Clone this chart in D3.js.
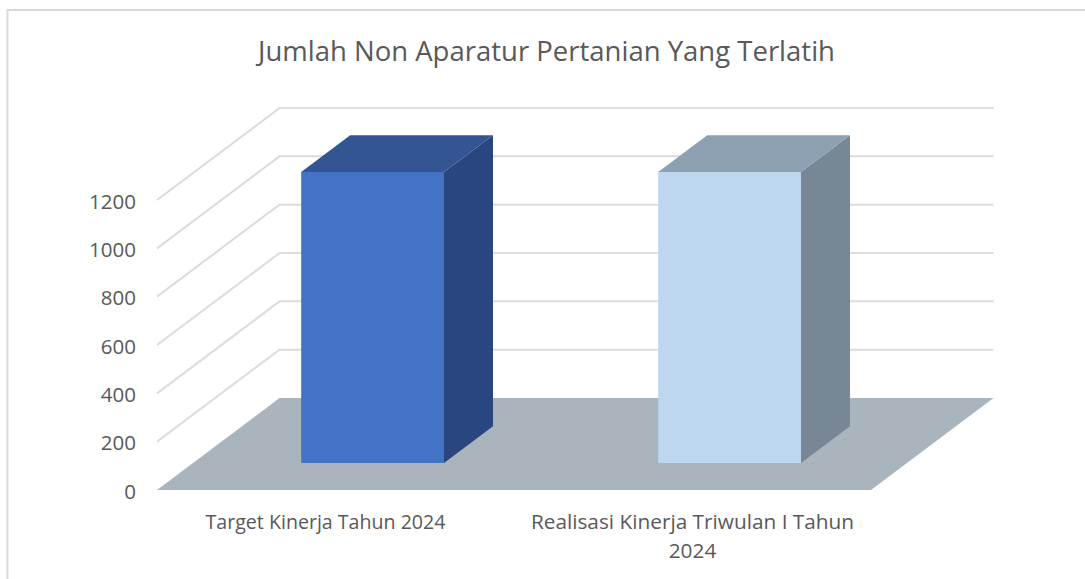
<!DOCTYPE html>
<html>
<head>
<meta charset="utf-8">
<style>
html, body { margin: 0; padding: 0; background: #fff; overflow: hidden; }
text { font-family: "Open Sans", sans-serif; fill: #595959; font-variant-ligatures: none; }
</style>
<script src="https://cdn.jsdelivr.net/npm/d3@7"></script>
</head>
<body>
<script>
//chart data
var chartTitle = "Jumlah Non Aparatur Pertanian Yang Terlatih";
var categories = ["Target Kinerja Tahun 2024", "Realisasi Kinerja Triwulan I Tahun 2024"];
var categoryLines = [["Target Kinerja Tahun 2024"], ["Realisasi Kinerja Triwulan I Tahun", "2024"]];
var values = [1204, 1204];
var tickValues = [0, 200, 400, 600, 800, 1000, 1200];

//face colors of each bar
var frontColors = ["#4472C4", "#BDD7EE"];
var topColors = ["#335593", "#8EA1B3"];
var sideColors = ["#2A4680", "#778796"];

var width = 1085,
    height = 579;

var svg = d3.select("body")
    .append("svg")
    .attr("width", width)
    .attr("height", height)
    .style("display", "block");

//outer chart border, only top and left are in the picture
svg.append("path")
    .attr("d", "M7.5,579V10H1085")
    .attr("fill", "none")
    .attr("stroke", "#d9d9d9")
    .attr("stroke-width", 2);

svg.append("text")
    .attr("x", 546.5)
    .attr("y", 61)
    .attr("text-anchor", "middle")
    .style("font-size", "27.5px")
    .text(chartTitle);

//front plane scales
var x = d3.scaleBand()
    .domain(categories)
    .range([157, 871])
    .paddingInner(0.6)
    .paddingOuter(0.3);

var y = d3.scaleLinear()
    .domain([0, 1200])
    .range([490, 200]);

//depth goes from the front of the floor (0) to the back wall (1)
var depthX = d3.scaleLinear().domain([0, 1]).range([0, 122.5]);
var depthY = d3.scaleLinear().domain([0, 1]).range([0, -92]);

function project(px, val, z){
    return [px + depthX(z), y(val) + depthY(z)];
};

var line = d3.line();

//gridlines run along the side wall then the back wall
svg.selectAll(".grid")
    .data(tickValues.slice(1))
    .enter()
    .append("path")
    .attr("class", "grid")
    .attr("fill", "none")
    .attr("stroke", "#dcdcdc")
    .attr("stroke-width", 2)
    .attr("d", function(d){
        return line([project(157, d, 0), project(157, d, 1), project(871, d, 1)]);
    });

//floor
svg.append("path")
    .attr("fill", "#A9B4BC")
    .attr("d", line([project(157, 0, 0), project(157, 0, 1), project(871, 0, 1), project(871, 0, 0)]) + "Z");

//bars
var barNudge = 1.2,
    zFront = 0.293,
    zBack = 0.693;

var bars = svg.selectAll(".bar")
    .data(categories)
    .enter()
    .append("g")
    .attr("class", "bar");

bars.append("path")
    .attr("fill", function(d, i){ return sideColors[i]; })
    .attr("d", function(d, i){
        var r = x(d) + x.bandwidth() + barNudge;
        return line([project(r, 0, zFront), project(r, 0, zBack), project(r, values[i], zBack), project(r, values[i], zFront)]) + "Z";
    });

bars.append("path")
    .attr("fill", function(d, i){ return topColors[i]; })
    .attr("d", function(d, i){
        var l = x(d) + barNudge,
            r = l + x.bandwidth();
        return line([project(l, values[i], zFront), project(l, values[i], zBack), project(r, values[i], zBack), project(r, values[i], zFront)]) + "Z";
    });

bars.append("path")
    .attr("fill", function(d, i){ return frontColors[i]; })
    .attr("d", function(d, i){
        var l = x(d) + barNudge,
            r = l + x.bandwidth();
        return line([project(l, 0, zFront), project(l, values[i], zFront), project(r, values[i], zFront), project(r, 0, zFront)]) + "Z";
    });

//value axis, labels only
var yAxis = d3.axisLeft(y)
    .tickValues(tickValues)
    .tickFormat(d3.format("d"))
    .tickSize(0)
    .tickPadding(0);

var yGroup = svg.append("g")
    .attr("transform", "translate(136,1.5)")
    .call(yAxis);

yGroup.select(".domain").remove();
yGroup.attr("font-family", null).attr("font-size", null);
yGroup.selectAll("text")
    .style("font-size", "20.5px")
    .style("fill", "#595959");

//category labels, the first one sits a bit left of its band in the original
var labelShift = [-10, 0];
var labelSizes = ["19.6px", "20.8px"];

categories.forEach(function(c, i){
    var label = svg.append("text")
        .attr("text-anchor", "middle")
        .style("font-size", labelSizes[i]);

    categoryLines[i].forEach(function(t, n){
        label.append("tspan")
            .attr("x", x(c) + x.bandwidth() / 2 + labelShift[i])
            .attr("y", 529 + n * 29)
            .text(t);
    });
});
</script>
</body>
</html>
